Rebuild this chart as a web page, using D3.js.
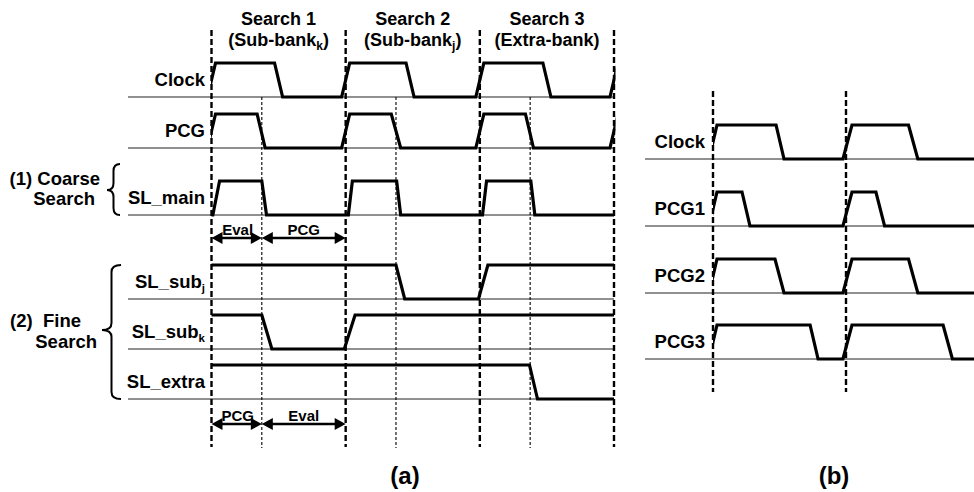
<!DOCTYPE html>
<html>
<head>
<meta charset="utf-8">
<script src="https://cdn.jsdelivr.net/npm/d3@7"></script>
<style>
  body { margin: 0; background: #fff; }
  text { font-family: "Liberation Sans", Arial, sans-serif; font-weight: bold; fill: #000; }
</style>
</head>
<body>
<svg id="chart"></svg>
<script>
// ---- data: panel (a) ----
var signalsA = [['Clock', ''], ['PCG', ''], ['SL_main', ''], ['SL_sub', 'j'], ['SL_sub', 'k'], ['SL_extra', '']];
// waveform points: [time in clock periods, logic level]
var clockA = [[-0.03,0],[0.03,1],[0.47,1],[0.53,0],[0.97,0],[1.03,1],[1.45,1],[1.51,0],[1.97,0],[2.03,1],[2.47,1],[2.53,0],[2.97,0],[3.03,1]];
var pcgA = [[-0.03,0],[0.03,1],[0.34,1],[0.40,0],[0.97,0],[1.03,1],[1.34,1],[1.41,0],[1.97,0],[2.03,1],[2.34,1],[2.40,0],[2.97,0],[3.03,1]];
var slMain = [[0,0],[0.01,0],[0.06,1],[0.375,1],[0.41,0],[1.02,0],[1.05,1],[1.38,1],[1.41,0],[2.02,0],[2.05,1],[2.38,1],[2.41,0],[3,0]];
var slSubJ = [[0,1],[1.375,1],[1.44,0],[1.99,0],[2.06,1],[3,1]];
var slSubK = [[0,1],[0.375,1],[0.45,0],[0.99,0],[1.07,1],[3,1]];
var slExtra = [[0,1],[2.37,1],[2.43,0],[3,0]];
var wavesA = [clockA, pcgA, slMain, slSubJ, slSubK, slExtra];

var searchTitles = ['Search 1', 'Search 2', 'Search 3'];
var searchBanks = [['(Sub-bank', 'k', ')'], ['(Sub-bank', 'j', ')'], ['(Extra-bank)', '', '']];
var periodMarks = [0, 1, 2, 3];
var halfMarks = [0.375, 1.375, 2.375];
var phasesTop = [['Eval', 0, 0.375], ['PCG', 0.375, 1]];
var phasesBottom = [['PCG', 0, 0.375], ['Eval', 0.375, 1]];
var groupLabels = [['(1) Coarse', 'Search'], ['(2)  Fine', 'Search']];

// ---- data: panel (b) ----
var signalsB = ['Clock', 'PCG1', 'PCG2', 'PCG3'];
var clockB = [[-0.03,0],[0.03,1],[0.474,1],[0.534,0],[0.977,0],[1.045,1],[1.47,1],[1.54,0],[2,0]];
var pcg1 = [[-0.03,0],[0.03,1],[0.218,1],[0.278,0],[0.977,0],[1.045,1],[1.225,1],[1.29,0],[2,0]];
var pcg2 = [[-0.03,0],[0.03,1],[0.466,1],[0.534,0],[0.977,0],[1.045,1],[1.47,1],[1.54,0],[2,0]];
var pcg3 = [[-0.03,0],[0.03,1],[0.73,1],[0.79,0],[0.977,0],[1.045,1],[1.73,1],[1.80,0],[2,0]];
var wavesB = [clockB, pcg1, pcg2, pcg3];
var periodMarksB = [0, 1];

// ---- layout ----
var width = 974, height = 492;
var rowsA = [97, 148, 215, 299, 349, 399];   // baselines of the rows
var rowsB = [159, 226, 293, 359];
var amp = 34;
var fs = 18.5;

var svg = d3.select('#chart')
  .attr('width', width)
  .attr('height', height);

var xA = d3.scaleLinear().domain([0, 3]).range([211.5, 614]);
var xB = d3.scaleLinear().domain([0, 2]).range([713, 979]);
var yLevel = d3.scaleLinear().domain([0, 1]).range([0, -amp]);

var defs = svg.append('defs');
defs.append('clipPath').attr('id', 'clipA')
  .append('rect').attr('x', xA(0) - 0.5).attr('y', 0).attr('width', xA(3) - xA(0) + 2).attr('height', height);
defs.append('clipPath').attr('id', 'clipB')
  .append('rect').attr('x', xB(0)).attr('y', 0).attr('width', width - xB(0)).attr('height', height);

// label with optional subscript, right aligned
function label(g, x, y, name, sub, size) {
  var t = g.append('text')
    .attr('x', x).attr('y', y)
    .attr('text-anchor', 'end')
    .style('font-size', size + 'px');
  t.append('tspan').text(name);
  if (sub) {
    t.append('tspan').attr('dy', 4).style('font-size', (size * 0.62) + 'px').text(sub);
  }
}

// curly brace pointing left
function brace(xl, xr, y0, y1, ym) {
  var xm = (xl + xr) / 2, r = 7;
  return 'M' + xr + ',' + y0 +
    ' Q' + xm + ',' + y0 + ' ' + xm + ',' + (y0 + r) +
    ' L' + xm + ',' + (ym - r) +
    ' Q' + xm + ',' + ym + ' ' + xl + ',' + ym +
    ' Q' + xm + ',' + ym + ' ' + xm + ',' + (ym + r) +
    ' L' + xm + ',' + (y1 - r) +
    ' Q' + xm + ',' + y1 + ' ' + xr + ',' + y1;
}

// double arrow between two times
function arrow(g, x0, x1, y) {
  var hl = 11, hw = 6;
  g.append('line')
    .attr('x1', x0 + hl - 1).attr('x2', x1 - hl + 1)
    .attr('y1', y).attr('y2', y)
    .attr('stroke', '#000').attr('stroke-width', 2.5);
  g.append('path')
    .attr('d', 'M' + x0 + ',' + y + 'L' + (x0 + hl) + ',' + (y - hw) + 'L' + (x0 + hl) + ',' + (y + hw) + 'Z')
    .attr('fill', '#000');
  g.append('path')
    .attr('d', 'M' + x1 + ',' + y + 'L' + (x1 - hl) + ',' + (y - hw) + 'L' + (x1 - hl) + ',' + (y + hw) + 'Z')
    .attr('fill', '#000');
}

// ================= panel (a) =================
var gA = svg.append('g');

// thin baselines
gA.selectAll('line.base')
  .data(rowsA)
  .enter()
  .append('line')
  .attr('class', 'base')
  .attr('x1', 128).attr('x2', xA(3))
  .attr('y1', d => d).attr('y2', d => d)
  .attr('stroke', '#222').attr('stroke-width', 1.2);

// waveforms
gA.append('g').attr('clip-path', 'url(#clipA)')
  .selectAll('path.wave')
  .data(wavesA)
  .enter()
  .append('path')
  .attr('class', 'wave')
  .attr('d', (d, i) => d3.line().x(p => xA(p[0])).y(p => rowsA[i] + yLevel(p[1]))(d))
  .attr('fill', 'none')
  .attr('stroke', '#000')
  .attr('stroke-width', 3.2)
  .attr('stroke-linejoin', 'miter');

// dashed period lines
gA.selectAll('line.period')
  .data(periodMarks)
  .enter()
  .append('line')
  .attr('x1', d => xA(d)).attr('x2', d => xA(d))
  .attr('y1', 30).attr('y2', 447)
  .attr('stroke', '#000').attr('stroke-width', 2.4)
  .attr('stroke-dasharray', '6,3');

gA.selectAll('line.half')
  .data(halfMarks)
  .enter()
  .append('line')
  .attr('x1', d => xA(d)).attr('x2', d => xA(d))
  .attr('y1', rowsA[0]).attr('y2', 448)
  .attr('stroke', '#000').attr('stroke-width', 1.1)
  .attr('stroke-dasharray', '3,2');

// search titles
searchTitles.forEach(function(s, i) {
  gA.append('text')
    .attr('x', xA(i + 0.5)).attr('y', 25)
    .attr('text-anchor', 'middle')
    .style('font-size', '18px')
    .text(s);
  var t = gA.append('text')
    .attr('x', xA(i + 0.5)).attr('y', 46)
    .attr('text-anchor', 'middle')
    .style('font-size', '18px');
  t.append('tspan').text(searchBanks[i][0]);
  if (searchBanks[i][1]) {
    t.append('tspan').attr('dy', 4).style('font-size', '12px').text(searchBanks[i][1]);
    t.append('tspan').attr('dy', -4).text(searchBanks[i][2]);
  }
});

// signal labels
signalsA.forEach(function(s, i) {
  label(gA, 205, rowsA[i] - 11, s[0], s[1], fs);
});

// group labels + braces
gA.append('text').attr('x', 100).attr('y', 185).attr('text-anchor', 'end').style('font-size', fs + 'px').text(groupLabels[0][0]);
gA.append('text').attr('x', 95).attr('y', 205).attr('text-anchor', 'end').style('font-size', fs + 'px').text(groupLabels[0][1]);
gA.append('text').attr('x', 81).attr('y', 327).attr('text-anchor', 'end').style('font-size', fs + 'px').style('white-space', 'pre').text(groupLabels[1][0]);
gA.append('text').attr('x', 97).attr('y', 348).attr('text-anchor', 'end').style('font-size', fs + 'px').text(groupLabels[1][1]);

gA.append('path').attr('d', brace(107, 120, 164, 215, 190))
  .attr('fill', 'none').attr('stroke', '#000').attr('stroke-width', 2);
gA.append('path').attr('d', brace(102, 121, 265, 399, 330))
  .attr('fill', 'none').attr('stroke', '#000').attr('stroke-width', 2);

// phase arrows
[[phasesTop, 238], [phasesBottom, 424]].forEach(function(row) {
  row[0].forEach(function(p) {
    arrow(gA, xA(p[1]), xA(p[2]), row[1]);
    gA.append('text')
      .attr('x', (xA(p[1]) + xA(p[2])) / 2 + (p[1] === 0 ? 1 : 0))
      .attr('y', row[1] - 3)
      .attr('text-anchor', 'middle')
      .style('font-size', '15px')
      .text(p[0]);
  });
});

gA.append('text').attr('x', 405).attr('y', 484).attr('text-anchor', 'middle').style('font-size', '24px').text('(a)');

// ================= panel (b) =================
var gB = svg.append('g');

gB.selectAll('line.base')
  .data(rowsB)
  .enter()
  .append('line')
  .attr('x1', 645).attr('x2', width)
  .attr('y1', d => d).attr('y2', d => d)
  .attr('stroke', '#222').attr('stroke-width', 1.2);

gB.append('g').attr('clip-path', 'url(#clipB)')
  .selectAll('path.wave')
  .data(wavesB)
  .enter()
  .append('path')
  .attr('d', (d, i) => d3.line().x(p => xB(p[0])).y(p => rowsB[i] + yLevel(p[1]))(d))
  .attr('fill', 'none')
  .attr('stroke', '#000')
  .attr('stroke-width', 3.2);

gB.selectAll('line.period')
  .data(periodMarksB)
  .enter()
  .append('line')
  .attr('x1', d => xB(d)).attr('x2', d => xB(d))
  .attr('y1', 91).attr('y2', 392)
  .attr('stroke', '#000').attr('stroke-width', 2.4)
  .attr('stroke-dasharray', '6,3');

signalsB.forEach(function(s, i) {
  label(gB, 705, rowsB[i] - 11, s, '', fs);
});

gB.append('text').attr('x', 834).attr('y', 484).attr('text-anchor', 'middle').style('font-size', '24px').text('(b)');
</script>
</body>
</html>
